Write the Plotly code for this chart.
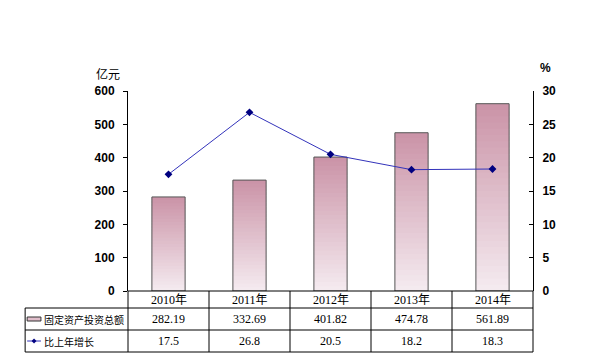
import plotly.graph_objects as go

years = ["2010年", "2011年", "2012年", "2013年", "2014年"]
invest = [282.19, 332.69, 401.82, 474.78, 561.89]
growth = [17.5, 26.8, 20.5, 18.2, 18.3]
invest_label = ["282.19", "332.69", "401.82", "474.78", "561.89"]
growth_label = ["17.5", "26.8", "20.5", "18.2", "18.3"]
name_invest = "固定资产投资总额"
name_growth = "比上年增长"

xs = list(range(len(years)))
fig = go.Figure()

# gradient bars: overlapping slices from light (bottom) to dark (top)
N = 30
top = (203, 148, 168)
bot = (244, 234, 239)
for i in range(N):
    t = i / (N - 1)
    c = tuple(round(bot[k] + (top[k] - bot[k]) * t) for k in range(3))
    h = 1.0 if i == N - 1 else 1.8
    fig.add_trace(go.Bar(
        x=xs, y=[v * h / N for v in invest], base=[v * i / N for v in invest],
        width=0.41, marker=dict(color="rgb(%d,%d,%d)" % c, line=dict(width=0)),
        showlegend=False, hoverinfo="skip"))
# outline
fig.add_trace(go.Bar(
    x=xs, y=invest, width=0.41,
    marker=dict(color="rgba(0,0,0,0)", line=dict(color="#555555", width=1)),
    showlegend=False, name=name_invest))

fig.add_trace(go.Scatter(
    x=xs, y=growth, yaxis="y2", mode="lines+markers",
    line=dict(color="#3333bb", width=1),
    marker=dict(symbol="diamond", size=6, color="#000080"),
    showlegend=False, name=name_growth))

tickfont = dict(family="Liberation Sans, Arial", size=12, color="black", weight="bold")
fig.update_layout(
    width=601, height=356,
    margin=dict(l=120, r=76, t=83, b=73),
    paper_bgcolor="white", plot_bgcolor="white",
    barmode="overlay",
    xaxis=dict(range=[-0.5, len(years) - 0.5], showticklabels=False, ticks="",
               showgrid=False, zeroline=False, showline=False, fixedrange=True),
    yaxis=dict(range=[0, 600], dtick=100, showgrid=False, zeroline=False,
               showline=True, linecolor="black", linewidth=1,
               ticks="outside", ticklen=4, tickcolor="black",
               tickfont=tickfont, ticklabelstandoff=6),
    yaxis2=dict(range=[0, 30], dtick=5, overlaying="y", side="right",
                showgrid=False, zeroline=False, showline=True, linecolor="black",
                linewidth=1, ticks="inside", ticklen=4, tickcolor="black",
                tickfont=tickfont, ticklabelstandoff=6),
)

# unit labels
fig.add_annotation(text="亿元", x=-0.05, y=1.035, xref="paper", yref="paper",
                   showarrow=False, xanchor="center", yanchor="bottom",
                   font=dict(family="Noto Sans CJK SC", size=12, color="black"))
fig.add_annotation(text="%", x=1.03, y=1.07, xref="paper", yref="paper",
                   showarrow=False, xanchor="center", yanchor="bottom",
                   font=dict(family="Liberation Sans", size=12, color="black", weight="bold"))

# data table below chart
y0, y1, y2, y3 = 0.0, -0.085, -0.195, -0.305
xl = -0.254
lc = "black"
def line(x0, ya, x1, yb):
    fig.add_shape(type="line", xref="paper", yref="paper", x0=x0, x1=x1, y0=ya, y1=yb,
                  line=dict(color=lc, width=1))

line(0, y0, 1, y0)
line(xl, y1, 1, y1)
line(xl, y2, 1, y2)
line(xl, y3, 1, y3)
line(xl, y1, xl, y3)
for i in range(len(years) + 1):
    line(i / len(years), y0, i / len(years), y3)

tfont = dict(family="Liberation Serif, Noto Sans CJK SC", size=12, color="black")
cfont = dict(family="Noto Sans CJK SC", size=10, color="black")
for i in xs:
    for txt, yy in ((years[i], (y0 + y1) / 2), (invest_label[i], (y1 + y2) / 2),
                    (growth_label[i], (y2 + y3) / 2)):
        fig.add_annotation(text=txt, x=i, y=yy, xref="x", yref="paper",
                           showarrow=False, xanchor="center", yanchor="middle", font=tfont)

# legend cells
ym2 = (y1 + y2) / 2
ym3 = (y2 + y3) / 2
fig.add_shape(type="rect", xref="paper", yref="paper", x0=-0.249, x1=-0.215,
              y0=ym2 - 0.01, y1=ym2 + 0.01,
              fillcolor="rgb(225,190,203)", line=dict(color="#333333", width=1))
fig.add_shape(type="line", xref="paper", yref="paper", x0=-0.249, x1=-0.215,
              y0=ym3, y1=ym3, line=dict(color="#3333bb", width=1))
cx, dx, dy = -0.232, 0.006, 0.013
fig.add_shape(type="path", xref="paper", yref="paper",
              path="M %f %f L %f %f L %f %f L %f %f Z" % (cx - dx, ym3, cx, ym3 + dy,
                                                         cx + dx, ym3, cx, ym3 - dy),
              fillcolor="#000080", line=dict(color="#000080", width=0))
fig.add_annotation(text=name_invest, x=-0.212, y=ym2, xref="paper", yref="paper",
                   showarrow=False, xanchor="left", yanchor="middle", font=cfont)
fig.add_annotation(text=name_growth, x=-0.212, y=ym3, xref="paper", yref="paper",
                   showarrow=False, xanchor="left", yanchor="middle", font=cfont)

fig.write_html("out.html")
